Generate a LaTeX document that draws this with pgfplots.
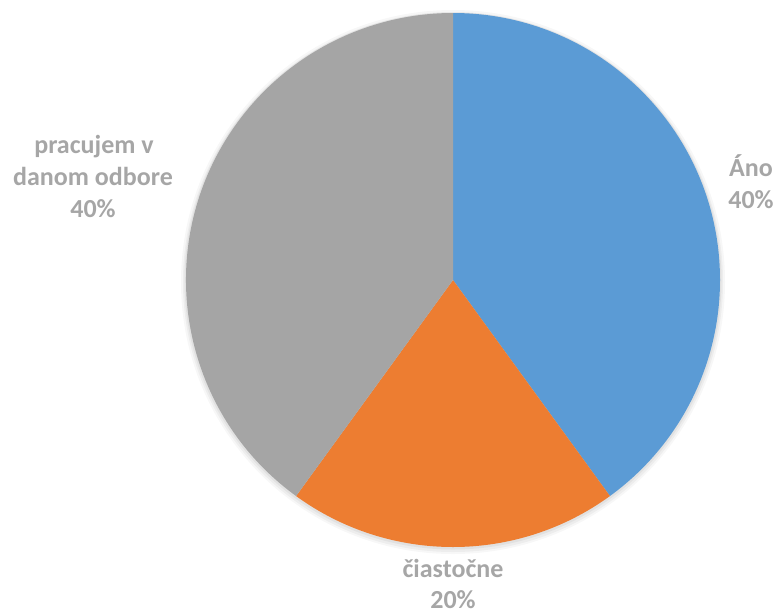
\documentclass[border=0pt]{standalone}
\usepackage{pgfplots}
\usepackage{pgfplotstable}
\pgfplotsset{compat=1.18}
\usepackage{fontspec}
\setmainfont{Carlito}
\definecolor{cblue}{HTML}{5B9BD5}
\definecolor{corange}{HTML}{ED7D31}
\definecolor{cgray}{HTML}{A5A5A5}
\definecolor{ctext}{HTML}{A6A6A6}
\pgfplotstableread{
label value
Ano 40
ciastocne 20
pracujem 40
}\piedata
\pgfplotstablegetelem{0}{value}\of\piedata \let\va\pgfplotsretval
\pgfplotstablegetelem{1}{value}\of\piedata \let\vb\pgfplotsretval
\pgfplotstablegetelem{2}{value}\of\piedata \let\vc\pgfplotsretval
\pgfmathsetmacro{\tot}{\va+\vb+\vc}
\pgfmathsetmacro{\aA}{90}
\pgfmathsetmacro{\aB}{90-360*\va/\tot}
\pgfmathsetmacro{\aC}{\aB-360*\vb/\tot}
\pgfmathsetmacro{\aD}{\aC-360*\vc/\tot}
\begin{document}
\begin{tikzpicture}
\begin{axis}[
  scale only axis, width=779pt, height=614pt,
  xmin=0, xmax=779, ymin=0, ymax=614, y dir=reverse,
  hide axis, clip=false,
]
\path (axis cs:0,0) (axis cs:779,614);
\fill[black, opacity=0.03] (axis cs:453,282) circle[radius=272pt];
\fill[black, opacity=0.04] (axis cs:453,282) circle[radius=270pt];
\fill[black, opacity=0.05] (axis cs:453,281) circle[radius=268.5pt];
\fill[cblue] (axis cs:453,280) -- ++(\aA:267pt) arc[start angle=\aA, end angle=\aB, radius=267pt] -- cycle;
\fill[corange] (axis cs:453,280) -- ++(\aB:267pt) arc[start angle=\aB, end angle=\aC, radius=267pt] -- cycle;
\fill[cgray] (axis cs:453,280) -- ++(\aC:267pt) arc[start angle=\aC, end angle=\aD, radius=267pt] -- cycle;
\begin{scope}[every node/.style={anchor=base, inner sep=0pt, text=ctext, font=\fontsize{26}{32}\selectfont\bfseries}]
\node at (axis cs:751,176) {Áno};
\node at (axis cs:751,208) {40\%};
\node at (axis cs:453,577) {čiastočne};
\node at (axis cs:453,608) {20\%};
\node at (axis cs:94,153) {pracujem v};
\node at (axis cs:93,185) {danom odbore};
\node at (axis cs:93,217) {40\%};
\end{scope}
\end{axis}
\end{tikzpicture}
\end{document}
